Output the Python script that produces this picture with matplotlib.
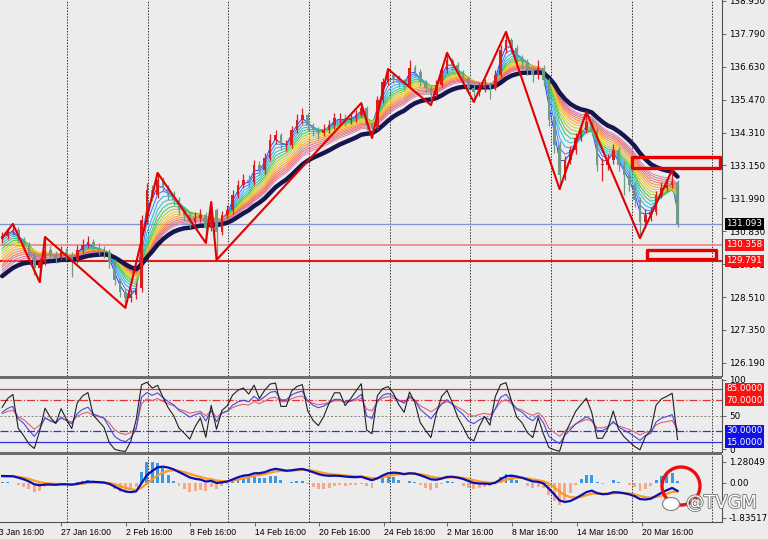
import numpy as np
import matplotlib.pyplot as plt
from matplotlib.patches import Rectangle, Ellipse
import matplotlib.patheffects as pe
import matplotlib.transforms as mtransforms

# ---- price data (4H candles) ----
first_open = 130.55
closes = [130.66, 130.80, 130.88, 130.52, 130.35, 130.00, 129.54, 129.75, 130.17, 130.00,
          129.89, 130.10, 129.96, 129.82, 130.17, 130.35, 130.45, 130.24, 130.17, 130.10,
          129.75, 129.11, 128.69, 128.48, 128.58, 128.83, 131.23, 132.29, 132.11, 132.64,
          132.36, 132.11, 131.93, 131.58, 131.40, 131.16, 131.30, 131.40, 130.95, 131.58,
          130.80, 131.40, 131.58, 132.11, 132.46, 132.64, 132.57, 133.17, 132.99, 133.41,
          134.05, 134.22, 133.87, 133.87, 134.40, 134.75, 134.93, 134.58, 134.40, 134.30,
          134.40, 134.58, 134.82, 134.82, 134.75, 134.82, 134.93, 135.18, 134.58, 134.47,
          135.46, 136.09, 136.34, 136.24, 136.09, 135.99, 136.59, 136.45, 136.09, 135.88,
          135.64, 135.99, 136.52, 136.87, 136.69, 136.45, 136.24, 135.88, 135.74, 135.88,
          135.99, 135.88, 136.34, 137.22, 137.58, 137.29, 136.94, 136.80, 136.52, 136.34,
          136.59, 136.16, 134.75, 133.87, 132.81, 133.34, 133.70, 134.12, 134.40, 134.68,
          134.40, 133.17, 133.17, 133.34, 133.70, 133.17, 132.81, 132.46, 131.93, 131.16,
          131.40, 131.51, 132.11, 132.36, 132.46, 132.57, 131.09]
highs = [130.80, 130.95, 131.09, 130.98, 130.62, 130.45, 130.10, 129.90, 130.63, 130.30,
         130.15, 130.30, 130.25, 130.10, 130.35, 130.55, 130.65, 130.55, 130.40, 130.30,
         130.20, 129.85, 129.20, 128.80, 128.80, 129.00, 131.40, 132.54, 132.45, 132.89,
         132.75, 132.45, 132.25, 132.05, 131.70, 131.50, 131.50, 131.60, 131.50, 131.86,
         131.65, 131.55, 131.75, 132.30, 132.65, 132.85, 132.80, 133.35, 133.30, 133.60,
         134.25, 134.40, 134.30, 134.05, 134.55, 134.95, 135.18, 135.00, 134.65, 134.50,
         134.60, 134.75, 135.00, 135.00, 134.95, 135.00, 135.10, 135.35, 135.25, 134.70,
         135.60, 136.25, 136.55, 136.45, 136.35, 136.20, 136.87, 136.70, 136.55, 136.15,
         135.95, 136.15, 136.65, 137.12, 136.95, 136.80, 136.50, 136.30, 136.00, 136.05,
         136.20, 136.10, 136.50, 137.40, 137.86, 137.65, 137.40, 137.05, 136.90, 136.65,
         136.87, 136.70, 136.25, 134.90, 134.00, 133.50, 133.85, 134.30, 134.60, 135.04,
         134.80, 134.50, 133.40, 133.55, 133.90, 133.80, 133.30, 132.95, 132.55, 132.05,
         131.60, 131.70, 132.25, 132.55, 132.65, 132.99, 132.65]
lows = [130.40, 130.55, 130.70, 130.40, 130.15, 129.85, 129.29, 129.04, 129.65, 129.85,
        129.70, 129.80, 129.80, 129.22, 129.70, 130.05, 130.25, 130.10, 130.00, 129.90,
        129.55, 128.95, 128.50, 128.13, 128.35, 128.45, 128.70, 131.10, 131.90, 132.00,
        132.20, 131.95, 131.75, 131.40, 131.20, 130.95, 131.05, 131.15, 130.42, 130.85,
        129.82, 130.70, 131.30, 131.45, 132.00, 132.35, 132.40, 132.45, 132.80, 132.85,
        133.30, 133.90, 133.70, 133.65, 133.75, 134.30, 134.60, 134.40, 134.20, 134.10,
        134.20, 134.30, 134.45, 134.65, 134.55, 134.60, 134.70, 134.85, 134.40, 134.12,
        134.40, 135.35, 136.00, 136.05, 135.90, 135.80, 135.90, 136.30, 135.95, 135.70,
        135.28, 135.55, 135.90, 136.40, 136.50, 136.30, 136.05, 135.70, 135.39, 135.60,
        135.75, 135.50, 135.80, 136.25, 137.10, 137.10, 136.75, 136.60, 136.35, 136.10,
        136.20, 135.95, 134.55, 133.60, 132.32, 132.65, 133.20, 133.55, 134.00, 134.30,
        134.20, 132.95, 132.60, 133.00, 133.20, 132.95, 132.10, 132.25, 131.70, 130.59,
        130.95, 131.20, 131.40, 132.00, 132.25, 132.35, 130.98]

# zigzag swing points (bar index, price)
zz_idx = [0, 2, 7, 8, 23, 29, 38, 39, 40, 67, 69, 72, 80, 83, 88, 94, 104, 109, 119, 125]
zz_px = [130.60, 131.09, 129.04, 130.63, 128.13, 132.89, 130.42, 131.86, 129.82, 135.35,
         134.12, 136.55, 135.28, 137.12, 135.39, 137.86, 132.32, 135.04, 130.59, 132.99]

# rainbow MA ribbon: periods and their values at the left edge of the chart
ribbon_spans = [2, 3, 4, 5, 6, 7, 8, 9, 10, 11, 12, 13, 14, 15, 16]
ribbon_seed = [130.62, 130.52, 130.42, 130.30, 130.20, 130.08, 129.98, 129.88, 129.78,
               129.68, 129.58, 129.48, 129.40, 129.30, 129.22]
ribbon_colors = ['#2040ff', '#3a78ff', '#30a8f0', '#20c8c8', '#30c080', '#50c040',
                 '#a0d030', '#e0d020', '#f8c020', '#f8a030', '#f88840', '#f07060',
                 '#e86878', '#e07090', '#d888a8']
slow_span = 20
slow_seed = 129.10

# horizontal levels
level_blue = 131.093
level_red1 = 130.358
level_red2 = 129.791
price_ticks = [138.950, 137.790, 136.630, 135.470, 134.310, 133.150, 131.990,
               130.830, 129.671, 128.510, 127.350, 126.190]

rsi_periods = [3, 7, 12]
rsi_colors = ['#202020', '#4848d8', '#e06070']
macd_fast, macd_slow, macd_sig = 6, 13, 5
macd_seed_fast, macd_seed_slow, macd_seed_sig = 130.45, 130.10, 0.30

date_pos = [-1.5, 11.0, 23.1, 35.1, 47.2, 59.1, 71.3, 83.0, 95.1, 107.3, 119.4]
date_labels = ['23 Jan 16:00', '27 Jan 16:00', '2 Feb 16:00', '8 Feb 16:00', '14 Feb 16:00',
               '20 Feb 16:00', '24 Feb 16:00', '2 Mar 16:00', '8 Mar 16:00', '14 Mar 16:00',
               '20 Mar 16:00']


def ema(vals, span, seed):
    a = 2.0 / (span + 1)
    out = []
    e = seed
    for v in vals:
        e += a * (v - e)
        out.append(e)
    return np.array(out)


def rsi(vals, n):
    d = np.diff(np.r_[first_open, vals])
    ag, al = 0.1, 0.1
    out = []
    for x in d:
        ag = (ag * (n - 1) + max(x, 0)) / n
        al = (al * (n - 1) + max(-x, 0)) / n
        out.append(100 * ag / (ag + al))
    return np.array(out)


c = np.array(closes)
o = np.r_[first_open, c[:-1]]
h = np.array(highs)
l = np.array(lows)
x = np.arange(len(c))

BG = '#ececec'
plt.rcParams['font.family'] = 'DejaVu Sans'
fig = plt.figure(figsize=(7.68, 5.39), dpi=100, facecolor=BG)
W = 722 / 768
ax = fig.add_axes([0, 1 - 376 / 539, W, 376 / 539], facecolor=BG)
ax2 = fig.add_axes([0, 1 - 452 / 539, W, 73 / 539], facecolor=BG, sharex=ax)
ax3 = fig.add_axes([0, 1 - 522 / 539, W, 67 / 539], facecolor=BG, sharex=ax)

for a in (ax, ax2, ax3):
    for s in a.spines.values():
        s.set_visible(False)
    a.spines['right'].set_visible(True)
    a.spines['right'].set_color('#505050')
    a.yaxis.tick_right()
    a.tick_params(axis='y', direction='out', length=3, width=0.6, color='#505050',
                  labelsize=6.3, pad=2)
    for g in np.arange(12.1, 134, 15.05):
        a.axvline(g, color='#303030', lw=0.7, ls=(0, (1.5, 1.5)), zorder=0)

# ---- main panel ----
ax.set_ylim(125.727, 138.985)
ax.set_yticks(price_ticks)
ax.set_yticklabels(['%.3f' % p for p in price_ticks])
ax.tick_params(axis='x', bottom=False, labelbottom=False)

for sp, col, sd in zip(ribbon_spans, ribbon_colors, ribbon_seed):
    ax.plot(x, ema(c, sp, sd), color=col, lw=0.7, zorder=2)
ax.plot(x, ema(c, slow_span, slow_seed), color='#15154f', lw=3.2, zorder=3,
        solid_capstyle='round')

up = c >= o
col = np.where(up, '#d81e1e', '#6f9a84')
ax.vlines(x, l, h, colors=col, lw=0.9, zorder=4)
ax.bar(x, np.maximum(np.abs(c - o), 0.02), bottom=np.minimum(o, c), width=0.5,
       color=col, zorder=4, linewidth=0)

ax.plot(zz_idx, zz_px, color='#e00000', lw=1.5, zorder=5)

ax.axhline(level_blue, color='#8090d0', lw=0.9, zorder=1)
ax.axhline(level_red1, color='#f07878', lw=1.1, zorder=1)
ax.axhline(level_red2, color='#e81818', lw=1.5, zorder=1)

ax.add_patch(Rectangle((117.5, 133.06), 16.4, 0.39, fill=False, ec='#e80000', lw=2.4,
                       joinstyle='round', zorder=6))
ax.add_patch(Rectangle((120.3, 129.86), 12.9, 0.31, fill=False, ec='#e80000', lw=2.4,
                       joinstyle='round', zorder=6))

for val, bg in [(level_blue, '#000000'), (level_red1, '#ff1010'), (level_red2, '#ff1010')]:
    ax.text(1.006, val, '%.3f' % val, transform=ax.get_yaxis_transform(), va='center',
            ha='left', fontsize=6.3, color='white', clip_on=False, zorder=10,
            bbox=dict(boxstyle='square,pad=0.18', fc=bg, ec='none'))

# ---- RSI panel ----
ax2.set_ylim(1.8, 98.2)
ax2.set_yticks([97, 50, 5.5])
ax2.set_yticklabels(['100', '50', '0'])
ax2.tick_params(axis='x', bottom=False, labelbottom=False)
ax2.axhline(85, color='#e83030', lw=0.9)
ax2.axhline(70, color='#e83030', lw=0.9, ls='-.')
ax2.axhline(50, color='#808080', lw=0.7, ls=(0, (2, 2)))
ax2.axhline(30, color='#3030e0', lw=0.9, ls='-.')
ax2.axhline(15, color='#3030e0', lw=0.9)
for per, colr in zip(rsi_periods[::-1], rsi_colors[::-1]):
    ax2.plot(x, rsi(c, per), color=colr, lw=0.8)
for val, bg in [(85, '#ff1010'), (70, '#ff1010'), (30, '#1010e8'), (15, '#1010e8')]:
    ax2.text(1.006, val, '%.4f' % val, transform=ax2.get_yaxis_transform(), va='center',
             ha='left', fontsize=6.3, color='white', clip_on=False, zorder=10,
             bbox=dict(boxstyle='square,pad=0.12', fc=bg, ec='none'))

# ---- MACD panel ----
fast = ema(c, macd_fast, macd_seed_fast)
slow = ema(c, macd_slow, macd_seed_slow)
macd = fast - slow
sig = ema(macd, macd_sig, macd_seed_sig)
hist = 2.5 * (macd - sig)
ax3.set_ylim(-1.84, 1.32)
ax3.set_yticks([0.99, 0, -1.65])
ax3.set_yticklabels(['1.28049', '0.00', '-1.83517'])
ax3.bar(x, hist, width=0.55, color=np.where(hist >= 0, '#3a98e8', '#f6a888'), lw=0, zorder=2)
ax3.plot(x, sig, color='#ff9a1a', lw=1.6, zorder=3)
ax3.plot(x, macd, color='#0a10b0', lw=1.6, zorder=4)

ax3.set_xticks(date_pos)
ax3.tick_params(axis='x', direction='out', length=3, width=0.6, color='#505050',
                labelbottom=False)
ax3.spines['bottom'].set_visible(True)
ax3.spines['bottom'].set_color('#505050')
trans = mtransforms.blended_transform_factory(ax3.transData, ax3.transAxes)
for p, lab in zip(date_pos, date_labels):
    ax3.text(p, -0.09, lab, transform=trans, ha='left', va='top', fontsize=6.2,
             family='Liberation Sans', clip_on=False)

ax.set_xlim(-0.4, 134.3)

# panel separators
for y0 in (376, 452):
    fig.add_artist(Rectangle((0, 1 - (y0 + 3) / 539), W, 3 / 539, transform=fig.transFigure,
                             fc='#6c6c6c', ec='none'))

# highlight circle + watermark
fig.add_artist(Ellipse((681 / 768, 1 - 486 / 539), 38 / 768, 38 / 539,
                       transform=fig.transFigure, fill=False, ec='#e81010', lw=2.4))
fig.text(686 / 768, 1 - 503 / 539, '@TVGM', fontsize=13, color='white', va='center',
         ha='left', path_effects=[pe.withStroke(linewidth=1.2, foreground='#707070')])
fig.add_artist(Ellipse((671 / 768, 1 - 504 / 539), 17 / 768, 13 / 539,
                       transform=fig.transFigure, fc='white', ec='#808080', lw=0.8))

fig.savefig('out.png', dpi=100, facecolor=BG)
